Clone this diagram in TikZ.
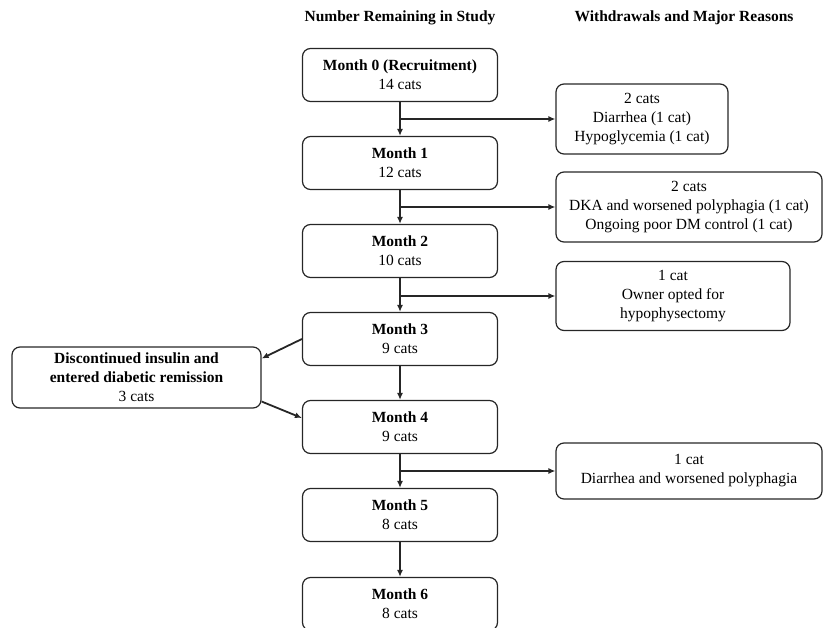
\documentclass[tikz,border=0pt]{standalone}
\usepackage{fontspec}
\setmainfont{Liberation Serif}
\usetikzlibrary{arrows.meta,calc}
\begin{document}
\begin{tikzpicture}[x=1pt,y=-1pt,
  box/.style={draw=black!85,line width=1.2pt,rounded corners=8pt,align=center,inner sep=0pt,
    font=\fontsize{15.5}{19}\selectfont},
  mbox/.style={box,minimum width=195pt,minimum height=53pt},
  hdr/.style={font=\fontsize{15.5}{19}\selectfont\bfseries,inner sep=0pt},
  arr/.style={draw=black!85,line width=1.8pt,-{Latex[length=7pt,width=6pt]}}]
\useasboundingbox (0,0) rectangle (826,628);
\node[hdr] (h1) at (400,18) {Number Remaining in Study};
\node[hdr] (h2) at (684,18) {Withdrawals and Major Reasons};
\node[mbox] (b0) at (400,75) {\textbf{Month 0 (Recruitment)}\\14 cats};
\node[mbox] (b1) at (400,163) {\textbf{Month 1}\\12 cats};
\node[mbox] (b2) at (400,251) {\textbf{Month 2}\\10 cats};
\node[mbox] (b3) at (400,339) {\textbf{Month 3}\\9 cats};
\node[mbox] (b4) at (400,427) {\textbf{Month 4}\\9 cats};
\node[mbox] (b5) at (400,515) {\textbf{Month 5}\\8 cats};
\node[mbox] (b6) at (400,604) {\textbf{Month 6}\\8 cats};
\node[box,minimum width=172pt,minimum height=70pt] (r1) at (642,119) {2 cats\\Diarrhea (1 cat)\\Hypoglycemia (1 cat)};
\node[box,minimum width=266pt,minimum height=70pt] (r2) at (689,207) {2 cats\\DKA and worsened polyphagia (1 cat)\\Ongoing poor DM control (1 cat)};
\node[box,minimum width=234pt,minimum height=69pt] (r3) at (673,296) {1 cat\\Owner opted for\\hypophysectomy};
\node[box,minimum width=266pt,minimum height=56pt] (r4) at (689,471) {1 cat\\Diarrhea and worsened polyphagia};
\node[box,minimum width=249pt,minimum height=61pt] (L) at (136.5,377.5) {\textbf{Discontinued insulin and}\\\textbf{entered diabetic remission}\\3 cats};
\foreach \a/\b in {b0/b1,b1/b2,b2/b3,b3/b4,b4/b5,b5/b6} \draw[arr] (\a) -- (\b);
\foreach \r in {r1,r2,r3,r4} \coordinate (j\r) at (b0 |- \r.west);
\draw[arr] (jr1) -- (r1.west);
\draw[arr] (jr2) -- (r2.west);
\draw[arr] (jr3) -- (r3.west);
\draw[arr] (jr4) -- (r4.west);
\draw[arr] (b3.west) -- ($(L.east)+(0,-19)$);
\draw[arr] ($(L.east)+(0,24)$) -- ($(b4.west)+(0,-9)$);
\end{tikzpicture}
\end{document}
